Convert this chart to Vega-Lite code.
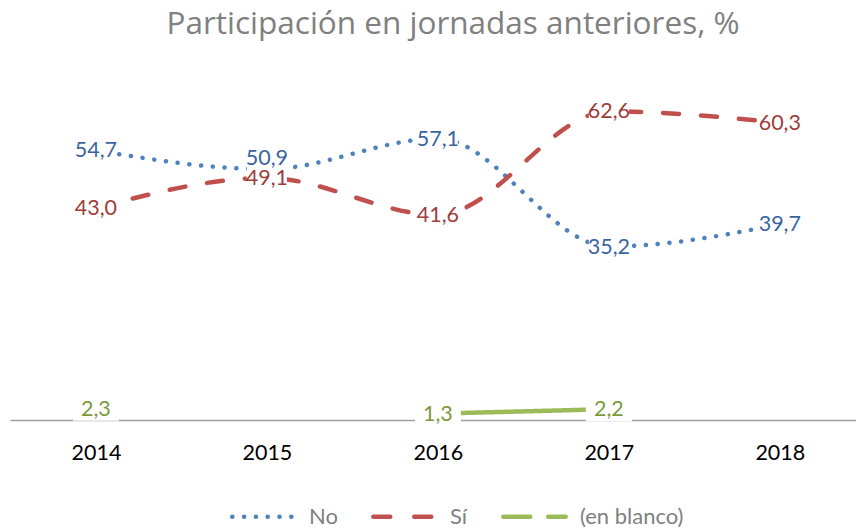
{
  "$schema": "https://vega.github.io/schema/vega-lite/v6.json",
  "width": 846,
  "height": 345,
  "autosize": {"type": "none"},
  "padding": {"left": 10, "top": 75, "right": 0, "bottom": 111},
  "background": "white",
  "config": {
    "view": {"stroke": null},
    "font": "Lato",
    "locale": {"number": {"decimal": ",", "thousands": ".", "grouping": [3], "currency": ["", " €"]}},
    "legend": {
      "orient": "none",
      "legendX": 220,
      "legendY": 408,
      "direction": "horizontal",
      "symbolType": "stroke",
      "symbolSize": 3900,
      "symbolStrokeWidth": 4.5,
      "labelFont": "Lato",
      "labelFontSize": 22,
      "labelColor": "#7f7f7f",
      "labelOffset": 12,
      "columnPadding": 26
    }
  },
  "title": {
    "text": "Participación en jornadas anteriores, %",
    "font": "Open Sans",
    "fontSize": 31.5,
    "fontWeight": "normal",
    "color": "#808080",
    "anchor": "middle",
    "frame": "group",
    "dx": 20,
    "offset": 10,
    "baseline": "alphabetic"
  },
  "data": {
    "values": [
      {"year": "2014", "serie": "No", "value": 54.7},
      {"year": "2015", "serie": "No", "value": 50.9},
      {"year": "2016", "serie": "No", "value": 57.1},
      {"year": "2017", "serie": "No", "value": 35.2},
      {"year": "2018", "serie": "No", "value": 39.7},
      {"year": "2014", "serie": "Sí", "value": 43.0},
      {"year": "2015", "serie": "Sí", "value": 49.1},
      {"year": "2016", "serie": "Sí", "value": 41.6},
      {"year": "2017", "serie": "Sí", "value": 62.6},
      {"year": "2018", "serie": "Sí", "value": 60.3},
      {"year": "2014", "serie": "(en blanco)", "value": 2.3},
      {"year": "2015", "serie": "(en blanco)", "value": null},
      {"year": "2016", "serie": "(en blanco)", "value": 1.3},
      {"year": "2017", "serie": "(en blanco)", "value": 2.2},
      {"year": "2018", "serie": "(en blanco)", "value": null}
    ]
  },
  "encoding": {
    "x": {
      "field": "year",
      "type": "ordinal",
      "title": null,
      "scale": {"type": "point", "padding": 0.474, "align": 0.53},
      "axis": {
        "ticks": false,
        "tickSize": 0,
        "domainColor": "#a0a0a0",
        "domainWidth": 1.5,
        "labelFont": "Lato",
        "labelFontSize": 21.5,
        "labelColor": "#000000",
        "labelPadding": 22,
        "labelAngle": 0,
        "grid": false
      }
    },
    "y": {
      "field": "value",
      "type": "quantitative",
      "scale": {"domain": [0, 70]},
      "axis": null
    }
  },
  "layer": [
    {
      "mark": {"type": "line", "strokeWidth": 4.5, "strokeCap": "round", "interpolate": "monotone"},
      "encoding": {
        "color": {
          "field": "serie",
          "type": "nominal",
          "title": null,
          "scale": {"domain": ["No", "Sí", "(en blanco)"], "range": ["#4f81bd", "#c0504d", "#9bbb59"]},
          "legend": {
            "title": null,
            "encode": {
              "symbols": {
                "update": {
                  "strokeCap": {"value": "round"},
                  "strokeDash": {"signal": "datum.label === '(en blanco)' ? [27, 18] : datum.label === 'Sí' ? [17, 24] : [0.1, 11.7]"}
                }
              }
            }
          }
        },
        "strokeDash": {
          "field": "serie",
          "type": "nominal",
          "title": null,
          "scale": {"domain": ["No", "Sí", "(en blanco)"], "range": [[0.1, 11.7], [16, 22], [1, 0]]},
          "legend": null
        }
      }
    },
    {
      "transform": [{"filter": "datum.value != null && datum.serie != '(en blanco)'"}],
      "mark": {"type": "rect", "width": 40, "height": 20, "fill": "white"}
    },
    {
      "transform": [{"filter": "datum.value != null && datum.serie == '(en blanco)'"}],
      "mark": {"type": "rect", "width": 46, "height": 24, "fill": "white"}
    },
    {
      "transform": [{"filter": "datum.value != null && !(datum.serie == 'No' && datum.year == '2015')"}],
      "mark": {"type": "text", "font": "Lato", "fontSize": 21.5, "baseline": "middle", "align": "center", "dy": 1},
      "encoding": {
        "text": {"field": "value", "type": "quantitative", "format": ".1f"},
        "color": {
          "field": "serie",
          "type": "nominal",
          "scale": {"domain": ["No", "Sí", "(en blanco)"], "range": ["#3a64a0", "#a03c3a", "#7a9a3a"]},
          "legend": null
        }
      }
    },
    {
      "transform": [{"filter": "datum.serie == 'No' && datum.year == '2015'"}],
      "mark": {"type": "text", "font": "Lato", "fontSize": 21.5, "baseline": "middle", "align": "center", "dy": -10},
      "encoding": {
        "text": {"field": "value", "type": "quantitative", "format": ".1f"},
        "color": {
          "field": "serie",
          "type": "nominal",
          "scale": {"domain": ["No", "Sí", "(en blanco)"], "range": ["#3a64a0", "#a03c3a", "#7a9a3a"]},
          "legend": null
        }
      }
    }
  ],
  "resolve": {"scale": {"color": "independent"}}
}
